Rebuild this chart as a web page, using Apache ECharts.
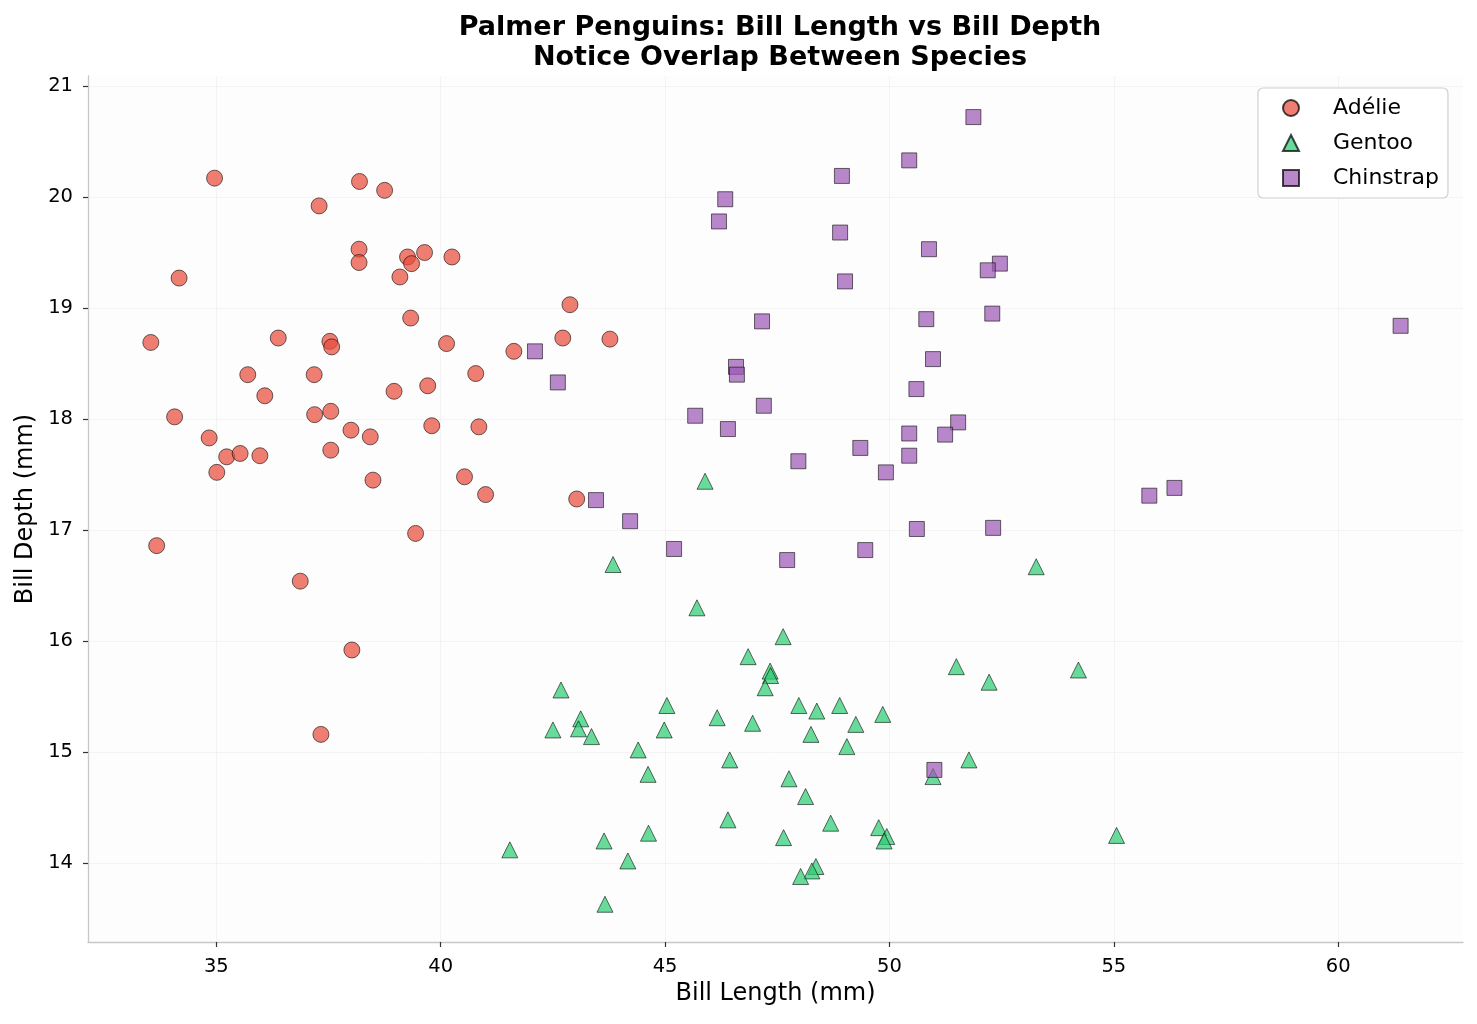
<!DOCTYPE html>
<html>
<head>
<meta charset="utf-8">
<title>Palmer Penguins</title>
<script src="https://cdn.jsdelivr.net/npm/echarts@6/dist/echarts.min.js"></script>
<style>
  html, body { margin: 0; padding: 0; background: #fff; }
  #chart { width: 1477px; height: 1024px; }
</style>
</head>
<body>
<div id="chart"></div>
<script>
// 各物种的数据点 [喙长, 喙深]
var adelie = [
  [34.96, 20.17], [38.19, 20.14], [38.75, 20.06], [37.29, 19.92], [38.18, 19.53],
  [38.18, 19.41], [39.26, 19.46], [39.35, 19.40], [39.64, 19.50], [40.25, 19.46],
  [39.09, 19.28], [34.17, 19.27], [42.88, 19.03], [39.33, 18.91], [33.54, 18.69],
  [36.38, 18.73], [37.53, 18.70], [37.57, 18.65], [40.13, 18.68], [41.63, 18.61],
  [42.72, 18.73], [43.77, 18.72], [35.70, 18.40], [37.18, 18.40], [40.78, 18.41],
  [36.08, 18.21], [38.96, 18.25], [39.71, 18.30], [34.07, 18.02], [37.19, 18.04],
  [37.55, 18.07], [38.00, 17.90], [38.43, 17.84], [39.80, 17.94], [40.85, 17.93],
  [34.84, 17.83], [35.23, 17.66], [35.53, 17.69], [35.97, 17.67], [35.01, 17.52],
  [37.55, 17.72], [38.49, 17.45], [40.53, 17.48], [41.00, 17.32], [43.03, 17.28],
  [39.44, 16.97], [33.67, 16.86], [36.87, 16.54], [38.02, 15.92], [37.33, 15.16]
];
var gentoo = [
  [45.89, 17.44], [43.84, 16.69], [45.71, 16.30], [47.63, 16.04], [46.85, 15.86],
  [47.34, 15.73], [47.35, 15.69], [47.23, 15.58], [42.68, 15.56], [45.04, 15.42],
  [47.98, 15.42], [48.38, 15.37], [48.89, 15.42], [49.85, 15.34], [46.16, 15.31],
  [46.95, 15.26], [43.12, 15.30], [43.07, 15.21], [42.50, 15.20], [43.36, 15.14],
  [44.98, 15.20], [49.25, 15.25], [48.25, 15.16], [49.05, 15.05], [44.40, 15.02],
  [46.44, 14.93], [44.62, 14.80], [47.76, 14.76], [48.13, 14.60], [46.40, 14.39],
  [48.69, 14.36], [49.76, 14.32], [49.94, 14.24], [49.88, 14.20], [47.64, 14.23],
  [44.63, 14.27], [43.64, 14.20], [41.54, 14.12], [44.17, 14.02], [48.36, 13.97],
  [48.27, 13.93], [48.02, 13.88], [43.66, 13.63], [53.27, 16.67], [51.49, 15.77],
  [52.22, 15.63], [54.21, 15.74], [51.77, 14.93], [50.97, 14.78], [55.06, 14.25]
];
var chinstrap = [
  [51.87, 20.72], [50.44, 20.33], [48.94, 20.19], [46.34, 19.98], [46.20, 19.78],
  [48.90, 19.68], [50.88, 19.53], [52.46, 19.40], [52.19, 19.34], [49.01, 19.24],
  [52.29, 18.95], [50.82, 18.90], [47.16, 18.88], [61.39, 18.84], [42.10, 18.61],
  [50.97, 18.54], [46.58, 18.47], [46.60, 18.40], [42.61, 18.33], [50.60, 18.27],
  [47.20, 18.12], [45.67, 18.03], [51.53, 17.97], [50.44, 17.87], [51.24, 17.86],
  [46.40, 17.91], [49.35, 17.74], [50.44, 17.67], [47.97, 17.62], [49.92, 17.52],
  [55.79, 17.31], [56.35, 17.38], [43.46, 17.27], [44.22, 17.08], [52.31, 17.02],
  [50.61, 17.01], [45.20, 16.83], [49.46, 16.82], [47.72, 16.73], [51.00, 14.84]
];
var xTicks = [35, 40, 45, 50, 55, 60];
var yTicks = [14, 15, 16, 17, 18, 19, 20, 21];

var FONT = 'DejaVu Sans';
var chart = echarts.init(document.getElementById('chart'));

function makeSeries(name, data, symbol, size, color) {
  return {
    name: name,
    type: 'scatter',
    data: data,
    symbol: symbol,
    symbolSize: size,
    itemStyle: {
      color: color,
      borderColor: '#000',
      borderWidth: 0.8,
      opacity: 0.72
    },
    emphasis: { disabled: true }
  };
}

var axisCommon = {
  type: 'value',
  nameLocation: 'middle',
  nameTextStyle: { fontFamily: FONT, fontSize: 24, color: '#000' },
  axisLine: { show: true, lineStyle: { color: '#c8c8c8', width: 1.3 } },
  axisTick: { show: true, length: 5, lineStyle: { color: '#333', width: 1.2 } },
  axisLabel: { fontFamily: FONT, fontSize: 19.5, color: '#000' },
  splitLine: { show: true, lineStyle: { color: 'rgba(0,0,0,0.035)', width: 1 } }
};

var option = {
  backgroundColor: '#fff',
  animation: false,
  title: {
    text: 'Palmer Penguins: Bill Length vs Bill Depth\nNotice Overlap Between Species',
    left: 775,
    top: 8,
    textAlign: 'center',
    textStyle: { fontFamily: FONT, fontSize: 27, fontWeight: 'bold', color: '#000', lineHeight: 30 }
  },
  legend: {
    orient: 'vertical',
    left: 1258,
    top: 88,
    padding: [9, 9, 9, 24],
    itemWidth: 16,
    itemHeight: 16,
    itemGap: 13,
    symbolKeepAspect: true,
    backgroundColor: 'rgba(255,255,255,0.8)',
    borderColor: '#d0d0d0',
    borderWidth: 1.2,
    borderRadius: 5,
    textStyle: { fontFamily: FONT, fontSize: 22, color: '#000', lineHeight: 22, padding: [0, 0, 0, 29] },
    data: ['Adélie', 'Gentoo', 'Chinstrap']
  },
  grid: {
    left: 88,
    right: 14,
    top: 76,
    bottom: 82,
    show: true,
    backgroundColor: '#fdfdfd',
    borderWidth: 0
  },
  xAxis: Object.assign({}, axisCommon, {
    name: 'Bill Length (mm)',
    nameGap: 40,
    min: 32.14,
    max: 62.78,
    axisTick: Object.assign({}, axisCommon.axisTick, { customValues: xTicks }),
    axisLabel: Object.assign({}, axisCommon.axisLabel, { customValues: xTicks, margin: 15 })
  }),
  yAxis: Object.assign({}, axisCommon, {
    name: 'Bill Depth (mm)',
    nameGap: 50,
    min: 13.29,
    max: 21.09,
    axisTick: Object.assign({}, axisCommon.axisTick, { customValues: yTicks }),
    axisLabel: Object.assign({}, axisCommon.axisLabel, { customValues: yTicks, margin: 15 })
  }),
  series: [
    makeSeries('Adélie', adelie, 'circle', 16, '#e74c3c'),
    makeSeries('Gentoo', gentoo, 'triangle', 16, '#2ecc71'),
    makeSeries('Chinstrap', chinstrap, 'rect', 15, '#9b59b6')
  ]
};

chart.setOption(option);
</script>
</body>
</html>
